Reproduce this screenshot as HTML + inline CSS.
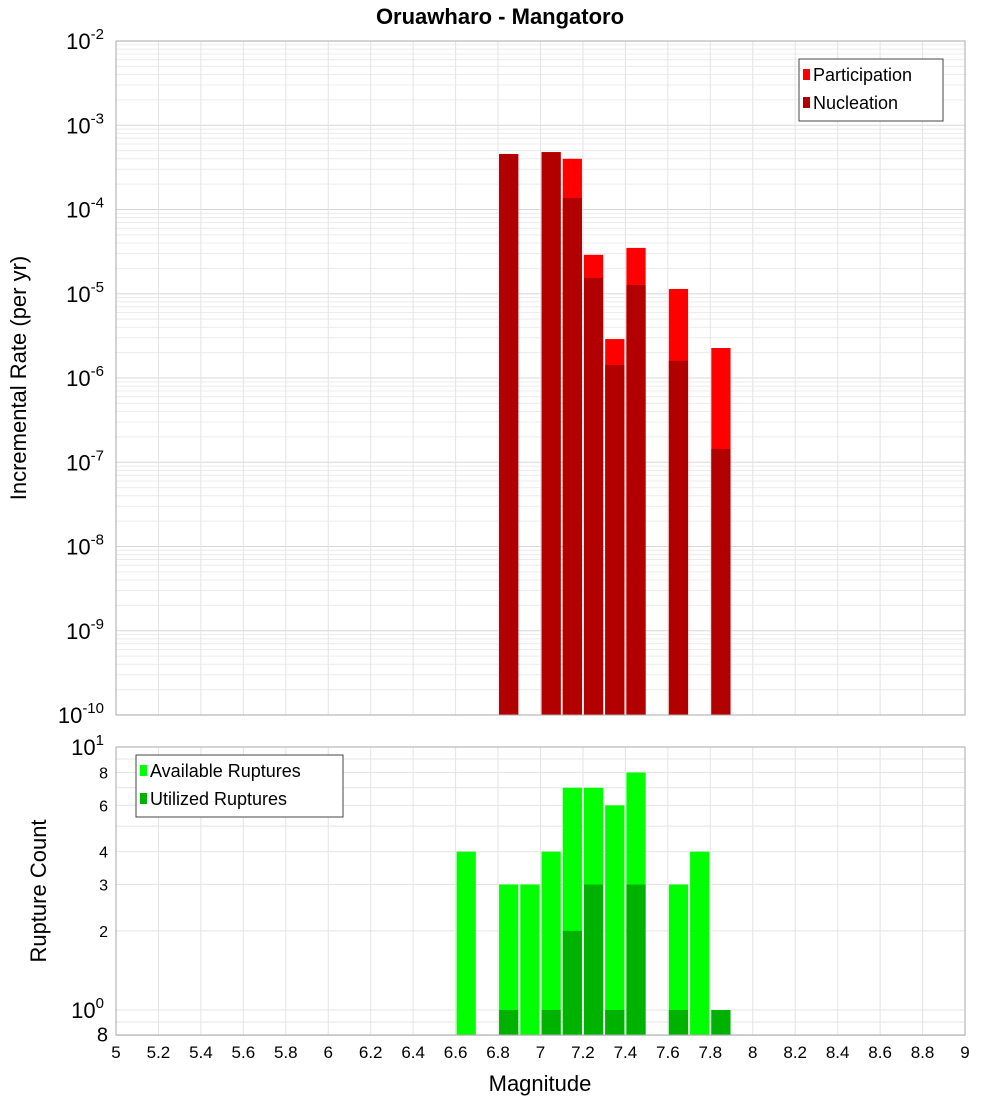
<!DOCTYPE html>
<html><head><meta charset="utf-8"><style>
body{margin:0;background:#fff;}
svg{font-family:"Liberation Sans","DejaVu Sans",sans-serif;display:block}
</style></head><body>
<svg id="c" width="1000" height="1100" xmlns="http://www.w3.org/2000/svg">
<rect width="1000" height="1100" fill="#fff"/>
<text x="500" y="24" text-anchor="middle" font-size="22" font-weight="bold">Oruawharo - Mangatoro</text>
<g id="topg"></g><g id="botg"></g><g id="xaxg"></g>
<text x="540" y="1091" text-anchor="middle" font-size="22">Magnitude</text>
<text transform="translate(26,378) rotate(-90)" text-anchor="middle" font-size="22">Incremental Rate (per yr)</text>
<text transform="translate(46,891) rotate(-90)" text-anchor="middle" font-size="22">Rupture Count</text>
</svg>
<script>
const rateMags=[6.85,7.05,7.15,7.25,7.35,7.45,7.65,7.85];
const participation=[4.56e-4,4.8e-4,4.0e-4,2.9e-5,2.9e-6,3.5e-5,1.14e-5,2.27e-6];
const nucleation=[4.56e-4,4.8e-4,1.37e-4,1.54e-5,1.43e-6,1.27e-5,1.6e-6,1.44e-7];
const countMags=[6.65,6.85,6.95,7.05,7.15,7.25,7.35,7.45,7.65,7.75,7.85];
const available=[4,3,3,4,7,7,6,8,3,4,1];
const utilized=[0,1,0,1,2,3,1,3,1,0,1];
const xTicks=[5,5.2,5.4,5.6,5.8,6,6.2,6.4,6.6,6.8,7,7.2,7.4,7.6,7.8,8,8.2,8.4,8.6,8.8,9];
const topExp=[-10,-9,-8,-7,-6,-5,-4,-3,-2];
const botTicks=[[0.8,"8"],[2,"2"],[3,"3"],[4,"4"],[6,"6"],[8,"8"]];
const NS="http://www.w3.org/2000/svg";
const PL=116,PR=965,T1=41,B1=715,T2=747,B2=1035;
const X=m=>PL+(m-5)/4*(PR-PL);
const Y1=v=>B1-(Math.log10(v)+10)*(B1-T1)/8;
const Y2=v=>1010-Math.log10(v)*263;
function mk(p,t,a){const e=document.createElementNS(NS,t);for(const k in a)e.setAttribute(k,a[k]);p.appendChild(e);return e;}
function pow(g,x,y,base,exp){const t=mk(g,'text',{x:x,y:y,'text-anchor':'end','font-size':22});
 const a=mk(t,'tspan',{});a.textContent=base;const b=mk(t,'tspan',{dy:-10,'font-size':15});b.textContent=exp;
 
 return t;}
const gTop=document.getElementById('topg'),gBot=document.getElementById('botg'),gX=document.getElementById('xaxg');
for(let e=-10;e<-2;e++)for(let k=2;k<10;k++){const l=mk(gTop,'line',{x1:PL,x2:PR,y1:Y1(k*10**e),y2:Y1(k*10**e),stroke:'#ececec'});
 
 }
for(const e of topExp){const l=mk(gTop,'line',{x1:PL,x2:PR,y1:Y1(10**e),y2:Y1(10**e),stroke:'#d8d8d8'});
 
 }
for(const v of [0.8,0.9,1,2,3,4,5,6,7,8,9,10]){const l=mk(gBot,'line',{x1:PL,x2:PR,y1:Y2(v),y2:Y2(v),stroke:'#e4e4e4'});
 
 }
for(const m of xTicks){for(const [t,b,g] of [[T1,B1,gTop],[T2,B2,gBot]]){const l=mk(g,'line',{x1:X(m),x2:X(m),y1:t,y2:b,stroke:'#e4e4e4'});
 
 }}
const bw=(PR-PL)/40;
rateMags.forEach((m,i)=>{
 let r=mk(gTop,'rect',{x:X(m)-bw/2+1,width:bw-2,y:Y1(participation[i]),height:B1-Y1(participation[i]),fill:'#ff0000'});
 
 
 r=mk(gTop,'rect',{x:X(m)-bw/2+1,width:bw-2,y:Y1(nucleation[i]),height:B1-Y1(nucleation[i]),fill:'#b20000'});
 
 
});
countMags.forEach((m,i)=>{
 let r=mk(gBot,'rect',{x:X(m)-bw/2+1,width:bw-2,y:Y2(available[i]),height:B2-Y2(available[i]),fill:'#00ff00'});
 
 
 if(utilized[i]>0){r=mk(gBot,'rect',{x:X(m)-bw/2+1,width:bw-2,y:Y2(utilized[i]),height:B2-Y2(utilized[i]),fill:'#00b200'});
 
 }
});
mk(gTop,'rect',{x:PL,y:T1,width:PR-PL,height:B1-T1,fill:'none',stroke:'#aaa'});
mk(gBot,'rect',{x:PL,y:T2,width:PR-PL,height:B2-T2,fill:'none',stroke:'#aaa'});
for(const e of topExp){pow(gTop,104,Y1(10**e)+8,'10',String(e));}
for(const [v,s] of botTicks){const t=mk(gBot,'text',{x:108,y:Y2(v)+6,'text-anchor':'end','font-size':v===0.8?20:16});t.textContent=s;
 
 }
for(const [v,s] of [[1,'0'],[10,'1']]){pow(gBot,104,Y2(v)+8,'10',s);}
for(const m of xTicks){const t=mk(gX,'text',{x:X(m),y:1058,'text-anchor':'middle','font-size':17});t.textContent=String(m);
 
 }
function legend(g,x,y,w,items){const b=mk(g,'rect',{x:x,y:y,width:w,height:items.length*28+6,fill:'#fff',stroke:'#444'});
 
 
 items.forEach((it,i)=>{mk(g,'rect',{x:x+4,y:y+10+i*28,width:7,height:11,fill:it[1]});const t=mk(g,'text',{x:x+14,y:y+22+i*28,'font-size':18});t.textContent=it[0];
 
 });}
legend(gTop,799,59,144,[['Participation','#ff0000'],['Nucleation','#b20000']]);
legend(gBot,136,755,207,[['Available Ruptures','#00ff00'],['Utilized Ruptures','#00b200']]);
</script>
</body></html>
